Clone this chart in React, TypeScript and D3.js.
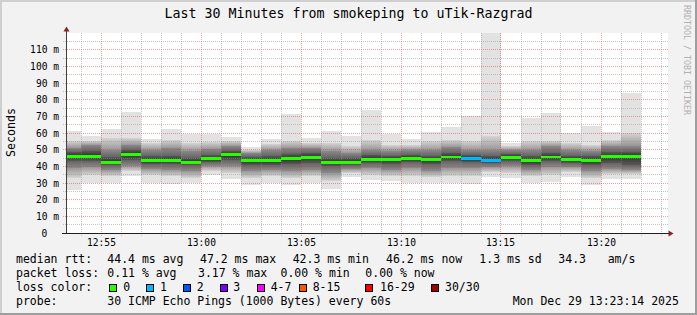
import React from "react";
import * as d3 from "d3";

// ---- data ----
const colEnd = [
  "12:54", "12:55", "12:56", "12:57", "12:58", "12:59", "13:00", "13:01", "13:02", "13:03",
  "13:04", "13:05", "13:06", "13:07", "13:08", "13:09", "13:10", "13:11", "13:12", "13:13",
  "13:14", "13:15", "13:16", "13:17", "13:18", "13:19", "13:20", "13:21", "13:22",
];
// smoke quantile envelopes (ms), outer -> inner
const pingMin = [25.8, 30.0, 30.0, 34.4, 30.2, 29.4, 29.8, 35.0, 32.6, 28.6, 29.8, 28.6, 29.8, 26.6, 33.4, 31.8, 31.4, 30.2, 29.8, 29.8, 29.2, 33.8, 33.0, 30.2, 30.6, 33.8, 28.6, 32.6, 32.6];
const pingLo2 = [33, 35, 34.5, 37, 35, 34, 33, 37.5, 36, 33, 34, 33, 34, 31, 36, 35, 34.5, 34, 33.5, 34, 34, 36.5, 36, 34, 35, 36.5, 33, 35.5, 35.5];
const pingLo3 = [39, 39.5, 38, 40, 38.5, 38, 37, 40, 40, 37, 38, 37.5, 38, 36, 38.5, 39, 38, 39, 37.5, 39, 39, 39.5, 40, 38, 39.5, 39.5, 37, 38.5, 38];
const pingLo4 = [43, 43, 40.5, 44, 41.5, 41.5, 40.5, 42.5, 44, 41, 41, 41.5, 42, 40, 40.5, 42, 41.5, 42.5, 41.5, 43, 42.5, 42, 43, 41, 43, 42, 41, 42, 40.5];
const median = [46.2, 46.2, 42.6, 47.2, 43.4, 43.8, 42.3, 44.6, 47.0, 43.4, 43.4, 44.6, 45.5, 42.6, 42.6, 44.4, 44.4, 44.8, 44.0, 45.6, 44.6, 43.6, 45.4, 43.4, 45.6, 44.2, 43.4, 45.8, 46.2];
const pingHi4 = [48.5, 49, 45.5, 50, 46, 46.5, 45, 47, 49, 45.5, 46.5, 47.5, 48, 45, 45, 47, 46.5, 47, 46.5, 48, 47, 46, 47.5, 46, 48, 46.5, 46, 48.5, 48.5];
const pingHi3 = [51, 53, 50, 53, 50, 51, 49, 50.5, 52, 48, 50, 51, 51, 49, 48, 50, 49.5, 50, 50, 51.5, 50, 50, 50, 50, 52, 50, 49, 52, 52];
const pingHi2 = [55, 55.5, 56.8, 57, 54, 56, 54, 54.5, 55, 50, 53.5, 55, 54, 54, 52, 56, 53, 53, 55, 56, 55, 58, 52, 55, 55, 54, 53, 56, 60];
const pingMax = [61.0, 58.4, 62.4, 72.8, 56.4, 62.4, 59.6, 59.6, 57.6, 51.6, 56.4, 71.2, 56.8, 61.2, 58.4, 74.0, 59.6, 56.4, 60.6, 63.8, 70.0, 128, 54.2, 69.2, 72.2, 60.0, 64.4, 60.8, 84.2];
const lossCount = [0, 0, 0, 0, 0, 0, 0, 0, 0, 0, 0, 0, 0, 0, 0, 0, 0, 0, 0, 0, 1, 1, 0, 0, 0, 0, 0, 0, 0];

const lossLabels = ["0", "1", "2", "3", "4-7", "8-15", "16-29", "30/30"];
const lossUpper = [0, 1, 2, 3, 7, 15, 29, 30];
const lossColors = ["#26ff00", "#00b8ff", "#0059ff", "#7e00ff", "#ff00ff", "#ff5500", "#ff0000", "#a10000"];

const yMajorTicks = [10, 20, 30, 40, 50, 60, 70, 80, 90, 100, 110];
const yMinorTicks = [5, 15, 25, 35, 45, 55, 65, 75, 85, 95, 105, 115];

const titleText = "Last 30 Minutes from smokeping to uTik-Razgrad";
const legendRtt = [
  ["median rtt:", 16], ["44.4 ms avg", 107.3], ["47.2 ms max", 200], ["42.3 ms min", 292.7],
  ["46.2 ms now", 386], ["1.3 ms sd", 479.3], ["34.3", 558.3], ["am/s", 607.7],
] as [string, number][];
const legendLoss = [
  ["packet loss:", 16], ["0.11 % avg", 107.3], ["3.17 % max", 198], ["0.00 % min", 280.5], ["0.00 % now", 365.3],
] as [string, number][];
const swatchX = [109, 146, 183, 220, 256.7, 298.7, 365.3, 430.7];
const swatchLabelX = [123.3, 160, 196.7, 233.3, 270.7, 312.7, 380, 445];
const legendProbe = [
  ["probe:", 16], ["30 ICMP Echo Pings (1000 Bytes) every 60s", 107.3], ["Mon Dec 29 13:23:14 2025", 512.7],
] as [string, number][];

const W = 697;
const H = 315;
const MONO = "'DejaVu Sans Mono', monospace";
const parse = d3.timeParse("%Y-%m-%d %H:%M:%S");
const t0 = parse("2025-12-29 12:53:15") as Date;
const t1 = parse("2025-12-29 13:23:15") as Date;

// smokeping smoke greys per zone: [outer edge, inner edge]
const zoneGrey: [number, number][] = [
  [226, 226],
  [212, 151],
  [138, 100],
  [88, 50],
];
const grey = (g: number) => `rgb(${g},${g},${g})`;

function lossColor(n: number) {
  for (let i = 0; i < lossUpper.length; i++) if (n <= lossUpper[i]) return lossColors[i];
  return lossColors[lossColors.length - 1];
}

export default function App() {
  const x = d3.scaleTime().domain([t0, t1]).range([66, 666]);
  const y = d3.scaleLinear().domain([0, 120]).range([233, 33]);
  const snap = (v: number) => Math.floor(v) + 0.5;
  const fmt = d3.timeFormat("%H:%M");

  const minutes = d3.timeMinute.every(1)!.range(t0, t1);
  const majorMin = minutes.filter((d) => d.getMinutes() % 5 === 0);
  const minorMin = minutes.filter((d) => d.getMinutes() % 5 !== 0);

  const cols = colEnd.map((s, i) => {
    const te = parse(`2025-12-29 ${s}:00`) as Date;
    const ts = new Date(Math.max(t0.getTime(), te.getTime() - 60000));
    const x0 = Math.round(x(ts));
    const x1 = Math.round(x(te));
    const lows = [pingMin[i], pingLo2[i], pingLo3[i], pingLo4[i], median[i]];
    const highs = [pingMax[i], pingHi2[i], pingHi3[i], pingHi4[i], median[i]];
    return { x0, x1, lows, highs, med: median[i], loss: lossCount[i] };
  });

  const gridMinor = { stroke: "#8f8f8f", strokeOpacity: 0.5, strokeDasharray: "1,1" };
  const gridMajor = { stroke: "#de3030", strokeOpacity: 0.45, strokeDasharray: "1,1" };

  const clampY = (v: number) => Math.max(33, Math.round(y(v)));

  return (
    <svg
      width={W}
      height={H}
      viewBox={`0 0 ${W} ${H}`}
      style={{ position: "fixed", left: 0, top: 0, display: "block" }}
      fontFamily={MONO}
    >
      <defs>
        {zoneGrey.map(([outer, inner], k) => (
          <React.Fragment key={`g${k}`}>
            <linearGradient id={`up${k}`} x1="0" y1="0" x2="0" y2="1">
              <stop offset="0" stopColor={grey(outer)} />
              <stop offset="1" stopColor={grey(inner)} />
            </linearGradient>
            <linearGradient id={`dn${k}`} x1="0" y1="0" x2="0" y2="1">
              <stop offset="0" stopColor={grey(inner)} />
              <stop offset="1" stopColor={grey(outer)} />
            </linearGradient>
          </React.Fragment>
        ))}
      </defs>

      {/* background and frame */}
      <rect x={0} y={0} width={W} height={H} fill="#f2f2f2" />
      <rect x={0} y={0} width={W} height={2} fill="#cfcfcf" />
      <rect x={0} y={0} width={2} height={H} fill="#cfcfcf" />
      <rect x={0} y={H - 2} width={W} height={2} fill="#9e9e9e" />
      <rect x={W - 2} y={0} width={2} height={H} fill="#9e9e9e" />

      {/* canvas */}
      <rect x={67} y={33} width={601} height={200} fill="#ffffff" />

      {/* smoke */}
      <g shapeRendering="crispEdges">
        {cols.map((c, i) =>
          zoneGrey.map((_, k) => {
            const upTop = clampY(c.highs[k]);
            const upBot = clampY(c.highs[k + 1]);
            const dnTop = clampY(c.lows[k + 1]);
            const dnBot = clampY(c.lows[k]);
            return (
              <g key={`${i}-${k}`}>
                {upBot > upTop && (
                  <rect x={c.x0} y={upTop} width={c.x1 - c.x0} height={upBot - upTop} fill={`url(#up${k})`} />
                )}
                {dnBot > dnTop && (
                  <rect x={c.x0} y={dnTop} width={c.x1 - c.x0} height={dnBot - dnTop} fill={`url(#dn${k})`} />
                )}
              </g>
            );
          })
        )}
      </g>

      {/* grid */}
      <g shapeRendering="crispEdges" strokeWidth={1}>
        {yMinorTicks.map((v) => (
          <line key={`ym${v}`} x1={63} x2={668} y1={snap(y(v))} y2={snap(y(v))} {...gridMinor} />
        ))}
        {yMajorTicks.map((v) => (
          <line key={`yM${v}`} x1={63} x2={668} y1={snap(y(v))} y2={snap(y(v))} {...gridMajor} />
        ))}
        {minorMin.map((d) => (
          <line key={`xm${+d}`} x1={snap(x(d))} x2={snap(x(d))} y1={33} y2={237} {...gridMinor} />
        ))}
        {majorMin.map((d) => (
          <line key={`xM${+d}`} x1={snap(x(d))} x2={snap(x(d))} y1={33} y2={237} {...gridMajor} />
        ))}
      </g>

      {/* median rtt coloured by loss */}
      <g shapeRendering="crispEdges">
        {cols.map((c, i) => {
          const yt = Math.round(y(c.med + 0.9));
          const yb = Math.round(y(c.med - 0.9));
          return <rect key={`m${i}`} x={c.x0} y={yt} width={c.x1 - c.x0} height={yb - yt} fill={lossColor(c.loss)} />;
        })}
      </g>

      {/* axes */}
      <g shapeRendering="crispEdges">
        <line x1={66.5} x2={66.5} y1={29} y2={234} stroke="#404040" />
        <line x1={62} x2={670} y1={233.5} y2={233.5} stroke="#202020" />
      </g>
      <path d="M66.5,26.5 L69.5,31.5 L63.5,31.5 Z" fill="#8f2020" />
      <path d="M673.5,233.5 L668.5,230.5 L668.5,236.5 Z" fill="#8f2020" />

      {/* y labels */}
      <g fontSize={9.6} fill="#000" textAnchor="end">
        {[0, ...yMajorTicks].map((v) => (
          <text key={`yl${v}`} x={v === 0 ? 47.4 : 59} y={snap(y(v)) + 3.8}>
            {v === 0 ? "0" : `${v} m`}
          </text>
        ))}
      </g>

      {/* x labels */}
      <g fontSize={9.6} fill="#000" textAnchor="middle">
        {majorMin.map((d) => (
          <text key={`xl${+d}`} x={snap(x(d))} y={246}>
            {fmt(d)}
          </text>
        ))}
      </g>

      {/* title */}
      <text x={348.5} y={18.3} fontSize={13.3} textAnchor="middle" fill="#000">
        {titleText}
      </text>

      {/* y axis title */}
      <text transform="translate(15,132.5) rotate(-90)" fontSize={11.6} textAnchor="middle" fill="#000">
        Seconds
      </text>

      {/* watermark */}
      <text transform="translate(684,5) rotate(90)" fontSize={8.3} fill="#b0b0b0">
        RRDTOOL / TOBI OETIKER
      </text>

      {/* legend */}
      <g fontSize={11.5} fill="#000">
        {legendRtt.map(([s, lx]) => (
          <text key={`r${s}`} x={lx} y={263.3}>{s}</text>
        ))}
        {legendLoss.map(([s, lx]) => (
          <text key={`l${s}`} x={lx} y={277.3}>{s}</text>
        ))}
        <text x={16} y={291.3}>loss color:</text>
        {lossLabels.map((s, i) => (
          <g key={`sw${s}`}>
            <rect x={Math.round(swatchX[i]) + 0.5} y={284.5} width={7} height={7} fill={lossColors[i]} stroke="#000" strokeWidth={1} />
            <text x={swatchLabelX[i]} y={291.3}>{s}</text>
          </g>
        ))}
        {legendProbe.map(([s, lx]) => (
          <text key={`p${s}`} x={lx} y={305.3}>{s}</text>
        ))}
      </g>
    </svg>
  );
}
